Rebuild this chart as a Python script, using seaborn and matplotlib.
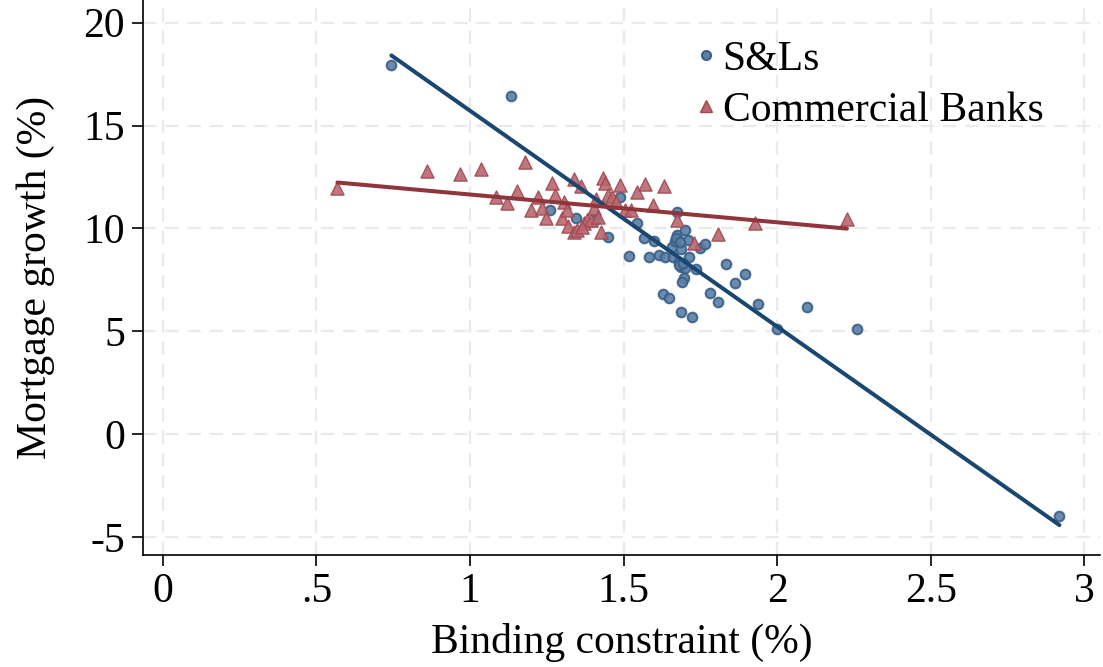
import matplotlib
matplotlib.use("Agg")
import matplotlib.pyplot as plt
import seaborn as sns
import pandas as pd
import numpy as np
from matplotlib.lines import Line2D

# S&Ls
sl_x = [0.744, 1.133, 1.260, 1.344, 1.406, 1.448, 1.487, 1.519, 1.542, 1.565,
        1.600, 1.584, 1.614, 1.636, 1.656, 1.666, 1.675, 1.675, 1.688, 1.701,
        1.708, 1.662, 1.679, 1.688, 1.701, 1.714, 1.737, 1.750, 1.766, 1.695,
        1.691, 1.834, 1.896, 1.864, 1.782, 1.808, 1.627, 1.649, 1.688, 1.724,
        1.938, 2.000, 2.097, 2.260, 2.919, 1.672, 1.683, 1.680, 1.692]
sl_y = [17.95, 16.46, 10.92, 10.53, 10.43, 9.60, 11.55, 8.68, 10.29, 9.56,
        9.41, 8.63, 8.73, 8.63, 9.12, 9.41, 9.70, 10.82, 9.02, 9.94,
        9.46, 8.63, 8.39, 8.15, 8.10, 8.63, 8.05, 9.07, 9.27, 7.61,
        7.42, 8.29, 7.81, 7.37, 6.88, 6.45, 6.83, 6.64, 5.96, 5.72,
        6.35, 5.13, 6.20, 5.13, -3.96, 9.55, 9.35, 8.25, 8.30]

# Commercial Banks
cb_x = [0.568, 0.860, 0.967, 1.035, 1.180, 1.084, 1.120, 1.153, 1.220, 1.200,
        1.234, 1.247, 1.266, 1.276, 1.300, 1.305, 1.315, 1.320, 1.338, 1.347,
        1.338, 1.360, 1.370, 1.380, 1.393, 1.364, 1.403, 1.409, 1.416, 1.425,
        1.432, 1.440, 1.448, 1.461, 1.474, 1.487, 1.506, 1.523, 1.542, 1.571,
        1.630, 1.597, 1.675, 1.730, 1.808, 1.929, 2.227]
cb_y = [11.99, 12.77, 12.67, 12.91, 13.25, 11.55, 11.26, 11.80, 11.55, 10.92,
        11.00, 10.53, 12.23, 11.65, 10.53, 11.31, 10.92, 10.14, 9.85, 9.95,
        12.38, 12.04, 10.28, 10.43, 10.43, 10.09, 11.00, 11.45, 10.58, 9.85,
        12.43, 12.23, 11.65, 11.55, 11.31, 12.09, 10.92, 10.92, 11.75, 12.18,
        12.04, 11.16, 10.43, 9.31, 9.75, 10.28, 10.48]

# Fitted-line coefficients (intercept, slope) as shown in the chart
sl_fit = [26.21, -10.49]
cb_fit = [13.00, -1.35]

x_ticks = [0, 0.5, 1, 1.5, 2, 2.5, 3]
x_tick_labels = ["0", ".5", "1", "1.5", "2", "2.5", "3"]
y_ticks = [-5, 0, 5, 10, 15, 20]
y_tick_labels = ["-5", "0", "5", "10", "15", "20"]
series_labels = ["S&Ls", "Commercial Banks"]

sns.set_theme(style="white")
plt.rcParams['font.family'] = ['Liberation Serif', 'DejaVu Serif']
plt.rcParams['text.color'] = 'black'

fig = plt.figure(figsize=(11.03, 6.67), dpi=100)
ax = fig.add_axes([0.1296, 0.168, 0.8674, 0.832])

df_sl = pd.DataFrame({"x": sl_x, "y": sl_y})
df_cb = pd.DataFrame({"x": cb_x, "y": cb_y})

blue_line = "#1a476f"
red_line = "#90353b"
blue_fill = "#5a7ea5"
blue_edge = "#3a6088"
red_fill = "#b8676f"
red_edge = "#a04a52"

sns.scatterplot(data=df_sl, x="x", y="y", ax=ax, marker="o", s=48,
                color=blue_fill, edgecolor=blue_edge, linewidth=1.5, alpha=0.9, zorder=3)
sns.scatterplot(data=df_cb, x="x", y="y", ax=ax, marker="^", s=90,
                color=red_fill, edgecolor=red_edge, linewidth=1.0, alpha=0.9, zorder=3)

def fit_frame(xs, coef):
    xr = np.array([min(xs), max(xs)])
    return pd.DataFrame({"x": xr, "y": coef[0] + coef[1] * xr})

sns.lineplot(data=fit_frame(sl_x, sl_fit), x="x", y="y", ax=ax,
             color=blue_line, lw=2.9, zorder=4)
sns.lineplot(data=fit_frame(cb_x, cb_fit), x="x", y="y", ax=ax,
             color=red_line, lw=2.9, zorder=4)

ax.set_xlim(-0.065, 3.05)
ax.set_ylim(-5.86, 21.1)
ax.set_xticks(x_ticks)
ax.set_xticklabels(x_tick_labels)
ax.set_yticks(y_ticks)
ax.set_yticklabels(y_tick_labels)

ax.grid(True, color="#eaeaea", linestyle=(0, (6, 4)), linewidth=1.6, zorder=0)
ax.set_axisbelow(True)

for s in ["top", "right"]:
    ax.spines[s].set_visible(False)
for s in ["left", "bottom"]:
    ax.spines[s].set_color("black")
    ax.spines[s].set_linewidth(1.2)

ax.tick_params(axis="both", which="major", direction="out", length=8, width=1.2,
               color="black", labelsize=30, labelcolor="black", pad=5,
               left=True, bottom=True)

ax.set_xlabel("Binding constraint (%)", fontsize=30, color="black", labelpad=8)
ax.set_ylabel("Mortgage growth (%)", fontsize=30, color="black", labelpad=20)

handles = [
    Line2D([], [], linestyle="none", marker="o", markersize=6.5,
           markerfacecolor=blue_fill, markeredgecolor=blue_edge, markeredgewidth=1.5),
    Line2D([], [], linestyle="none", marker="^", markersize=9,
           markerfacecolor=red_fill, markeredgecolor=red_edge, markeredgewidth=1.0),
]
ax.legend(handles, series_labels, loc="upper left",
          bbox_to_anchor=(0.545, 0.98), frameon=False, fontsize=30,
          labelcolor="black",
          handlelength=0.6, handletextpad=0.1, labelspacing=0.3, borderpad=0.2)

fig.savefig("out.png", dpi=100)
